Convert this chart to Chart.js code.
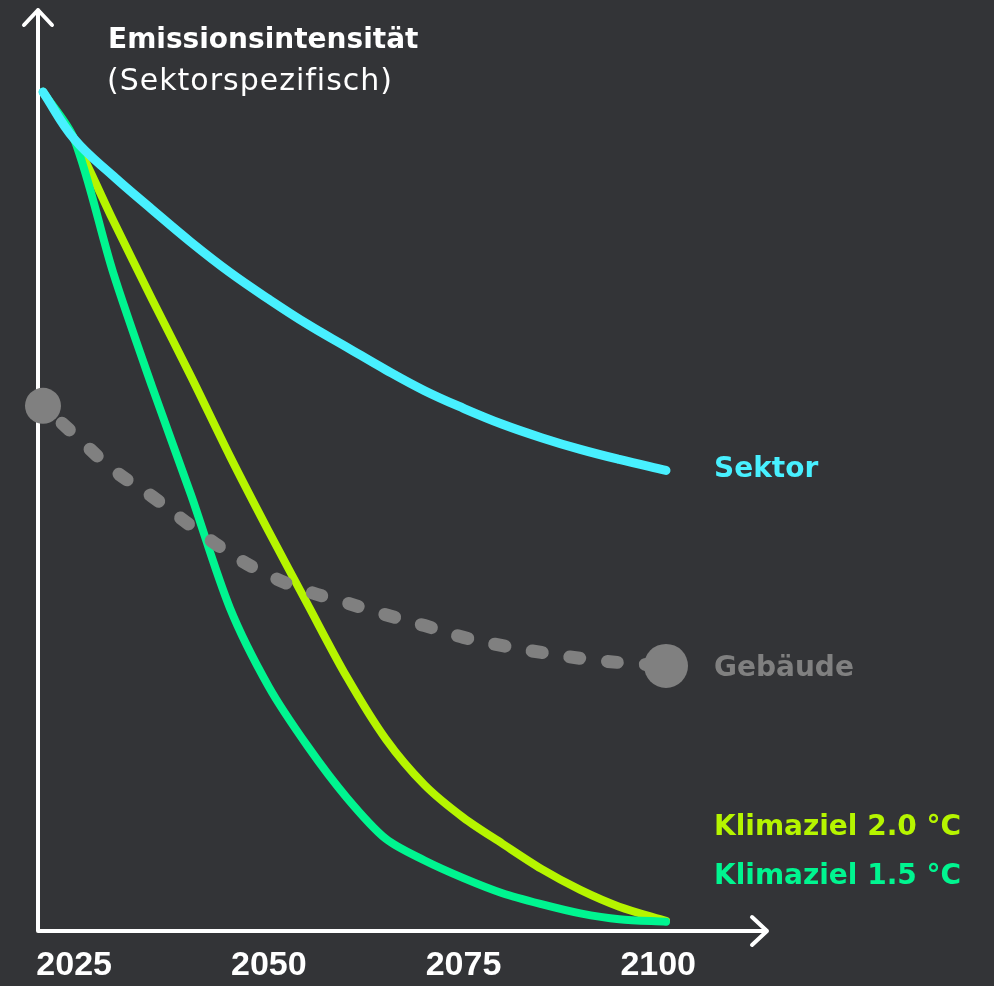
<!DOCTYPE html>
<html lang="de">
<head>
    <meta charset="UTF-8">
    <title>Emissionsintensität</title>
    <style>
        body {
            margin: 0;
            padding: 0;
            background-color: #333437;
            overflow: hidden;
        }
        canvas {
            display: block;
        }
    </style>
</head>
<body>
    <canvas id="chart" width="994" height="986"></canvas>

    <script src="https://cdn.jsdelivr.net/npm/chart.js"></script>
    <script>
        // Jahre (x) und Werte der Kurven (relativ, Start = 100)
        var years = [2021, 2025, 2030, 2035, 2040, 2045, 2050, 2055, 2060, 2065, 2070, 2075, 2080, 2085, 2090, 2095, 2101];
        var tickYears = [2025, 2050, 2075, 2100];

        var sektor   = [100, 94.4, 90.0, 86.0, 82.1, 78.5, 75.3, 72.3, 69.6, 66.9, 64.4, 62.3, 60.4, 58.8, 57.4, 56.2, 54.9];
        var gebaeude = [62.6, 59.2, 55.0, 51.8, 48.3, 45.0, 42.4, 40.5, 39.1, 37.7, 36.4, 35.0, 34.0, 33.2, 32.5, 32.0, 31.6];
        var ziel20   = [100, 94.4, 84.7, 75.3, 66.1, 56.6, 47.6, 38.9, 30.3, 22.9, 17.4, 13.5, 10.4, 7.4, 4.9, 2.9, 1.2];
        var ziel15   = [100, 94.4, 78.5, 64.9, 52.0, 38.5, 29.1, 22.0, 15.9, 11.0, 8.4, 6.3, 4.5, 3.2, 2.1, 1.4, 1.1];

        var seriesNames = ['Sektor', 'Gebäude', 'Klimaziel 2.0 °C', 'Klimaziel 1.5 °C'];

        var cCyan = '#48F0FF';
        var cGray = '#808080';
        var cLime = '#B6F500';
        var cGreen = '#00F590';

        function toPoints(arr) {
            return arr.map(function (v, i) { return { x: years[i], y: v }; });
        }

        // Punktgroessen fuer Gebaeude: nur Anfang und Ende
        var gebRadius = gebaeude.map(function (v, i) {
            if (i === 0) return 18;
            if (i === gebaeude.length - 1) return 22;
            return 0;
        });

        // Achsen mit Pfeilen + Texte
        var decoPlugin = {
            id: 'deco',
            beforeDatasetsDraw: function (chart) {
                var ctx = chart.ctx;
                var area = chart.chartArea;
                var ax = area.left - 5;
                var ay = area.bottom;
                ctx.save();
                ctx.strokeStyle = '#ffffff';
                ctx.lineWidth = 4;
                ctx.lineCap = 'round';
                ctx.lineJoin = 'round';
                // y-Achse
                ctx.beginPath();
                ctx.moveTo(ax, ay);
                ctx.lineTo(ax, 10);
                ctx.moveTo(ax - 14, 25);
                ctx.lineTo(ax, 10);
                ctx.lineTo(ax + 14, 25);
                // x-Achse
                ctx.moveTo(ax, ay);
                ctx.lineTo(767, ay);
                ctx.moveTo(752, ay - 14);
                ctx.lineTo(767, ay);
                ctx.lineTo(752, ay + 14);
                ctx.stroke();
                ctx.restore();
            },
            afterDraw: function (chart) {
                var ctx = chart.ctx;
                var xs = chart.scales.x;
                var ys = chart.scales.y;
                var last = years.length - 1;
                var lx = xs.getPixelForValue(years[last]) + 48;
                ctx.save();
                ctx.textAlign = 'left';
                ctx.textBaseline = 'alphabetic';
                ctx.fillStyle = '#ffffff';
                ctx.font = 'bold 28px "DejaVu Sans"';
                ctx.fillText('Emissionsintensität', 108, 48);
                ctx.font = '30px "DejaVu Sans"';
                ctx.letterSpacing = '1px';
                ctx.fillText('(Sektorspezifisch)', 107, 90);
                ctx.letterSpacing = '0px';

                ctx.font = 'bold 28px "DejaVu Sans"';
                ctx.textBaseline = 'middle';
                ctx.fillStyle = cCyan;
                ctx.fillText(seriesNames[0], lx, ys.getPixelForValue(sektor[last]) - 1);
                ctx.fillStyle = cGray;
                ctx.fillText(seriesNames[1], lx, ys.getPixelForValue(gebaeude[last]) + 3);
                ctx.fillStyle = cLime;
                ctx.fillText(seriesNames[2], lx, 828);
                ctx.fillStyle = cGreen;
                ctx.fillText(seriesNames[3], lx, 877);
                ctx.restore();
            }
        };

        var config = {
            type: 'line',
            data: {
                datasets: [
                    {
                        label: seriesNames[1],
                        data: toPoints(gebaeude),
                        borderColor: cGray,
                        borderWidth: 13,
                        borderDash: [10, 28],
                        borderDashOffset: 12,
                        borderCapStyle: 'round',
                        tension: 0.4,
                        pointRadius: gebRadius,
                        pointBackgroundColor: cGray,
                        pointBorderWidth: 0,
                        clip: false
                    },
                    {
                        label: seriesNames[0],
                        data: toPoints(sektor),
                        borderColor: cCyan,
                        borderWidth: 9,
                        borderCapStyle: 'round',
                        tension: 0.4,
                        pointRadius: 0,
                        clip: false
                    },
                    {
                        label: seriesNames[3],
                        data: toPoints(ziel15),
                        borderColor: cGreen,
                        borderWidth: 8,
                        borderCapStyle: 'round',
                        tension: 0.3,
                        pointRadius: 0,
                        clip: false
                    },
                    {
                        label: seriesNames[2],
                        data: toPoints(ziel20),
                        borderColor: cLime,
                        borderWidth: 8,
                        borderCapStyle: 'round',
                        tension: 0.3,
                        pointRadius: 0,
                        clip: false
                    }
                ]
            },
            options: {
                responsive: false,
                animation: false,
                layout: {
                    padding: { left: 43, right: 328, top: 92, bottom: -15 }
                },
                plugins: {
                    legend: { display: false },
                    tooltip: { enabled: false }
                },
                scales: {
                    x: {
                        type: 'linear',
                        min: years[0],
                        max: years[years.length - 1],
                        afterBuildTicks: function (scale) {
                            scale.ticks = tickYears.map(function (v) { return { value: v }; });
                        },
                        grid: { display: false, drawTicks: false },
                        border: { display: false },
                        ticks: {
                            autoSkip: false,
                            maxRotation: 0,
                            padding: 18,
                            color: '#ffffff',
                            font: { family: '"Liberation Sans"', size: 34, weight: 'bold', lineHeight: 1 },
                            callback: function (v) { return String(v); }
                        }
                    },
                    y: {
                        display: false,
                        min: 0,
                        max: 100
                    }
                }
            },
            plugins: [decoPlugin]
        };

        new Chart(document.getElementById('chart').getContext('2d'), config);
    </script>
</body>
</html>
